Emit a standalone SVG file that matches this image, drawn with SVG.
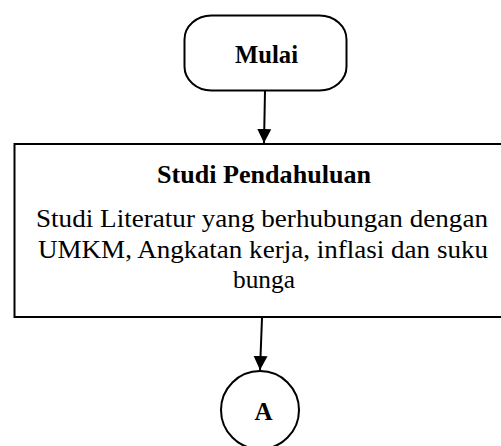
<svg xmlns="http://www.w3.org/2000/svg" width="501" height="446" viewBox="0 0 501 446">
<style>
.shape{fill:#fff;stroke:#000;stroke-width:2}
.t{font-family:"Liberation Serif","Times New Roman",serif;fill:#000;text-anchor:middle}
.b{font-weight:bold}
.conn{stroke:#000;stroke-width:2;fill:none}
</style>
<defs>
<marker id="arr" markerWidth="14" markerHeight="15" refX="14" refY="7" orient="auto" markerUnits="userSpaceOnUse" viewBox="0 0 14 14">
<path d="M0,0 L14,7 L0,14 Z" fill="#000"/>
</marker>
</defs>
<rect width="501" height="446" fill="#fff"/>
<g id="mulai">
<rect class="shape" x="184.5" y="15.5" width="162" height="75" rx="27" ry="24"/>
<text class="t b" x="266.5" y="62.5" font-size="25" textLength="63" lengthAdjust="spacingAndGlyphs">Mulai</text>
</g>
<g id="studi">
<rect class="shape" x="14.5" y="144" width="500" height="173"/>
<text class="t b" x="264" y="183" font-size="25" textLength="214" lengthAdjust="spacingAndGlyphs">Studi  Pendahuluan</text>
<text class="t" x="262" y="227" font-size="26" textLength="452" lengthAdjust="spacingAndGlyphs">Studi Literatur yang berhubungan dengan</text>
<text class="t" x="263" y="258" font-size="26" textLength="450" lengthAdjust="spacingAndGlyphs">UMKM,  Angkatan kerja, inflasi dan suku</text>
<text class="t" x="264" y="288" font-size="26" textLength="62" lengthAdjust="spacingAndGlyphs">bunga</text>
</g>
<g id="a">
<circle class="shape" cx="260" cy="410" r="39"/>
<text class="t b" x="263.5" y="420" font-size="25">A</text>
</g>
<g id="connectors">
<line class="conn" x1="265" y1="91" x2="264" y2="143" marker-end="url(#arr)"/>
<line class="conn" x1="262" y1="318" x2="260" y2="370" marker-end="url(#arr)"/>
</g>
</svg>
